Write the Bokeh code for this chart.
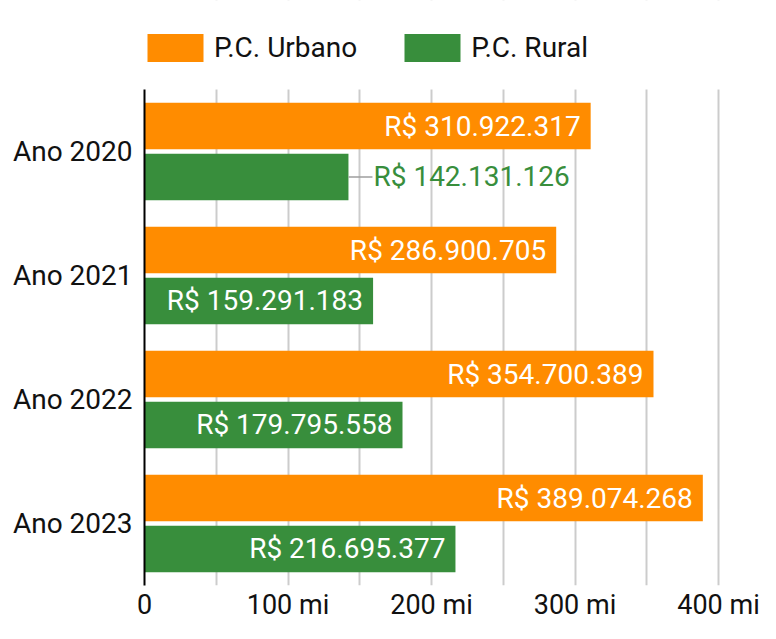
from bokeh.plotting import figure
from bokeh.models import (ColumnDataSource, Range1d, FixedTicker, Legend, LegendItem,
                          BoxAnnotation)
from bokeh.core.properties import value
from bokeh.embed import file_html
from bokeh.resources import INLINE

# ---- data ----
years = ["Ano 2020", "Ano 2021", "Ano 2022", "Ano 2023"]
urbano = [310922317, 286900705, 354700389, 389074268]
rural = [142131126, 159291183, 179795558, 216695377]
series_names = ["P.C. Urbano", "P.C. Rural"]
x_ticks = [0, 100, 200, 300, 400]
x_tick_labels = ["0", "100 mi", "200 mi", "300 mi", "400 mi"]
grid_ticks = [0, 50, 100, 150, 200, 250, 300, 350, 400]

# ---- style / layout ----
ORANGE = "#FF8C00"
GREEN = "#388E3C"
FONT = "Roboto"
W, H = 760, 623
FRAME_L = 144
BORDER_B = 38
FRAME_B = H - BORDER_B          # frame bottom in px (frame top is at 0)
PLOT_TOP = 89                   # px where the category area starts
PX_PER_MI = 1.435
X_END = (W - FRAME_L) / PX_PER_MI
UNIT = (FRAME_B - PLOT_TOP) / len(years)
Y_START = len(years) - 0.5
Y_END = -0.5 - PLOT_TOP / UNIT
OFF = 0.205
BAR_H = 0.375
LEADER_MI = 24 / PX_PER_MI


def fmt(v):
    return "R$ " + f"{v:,}".replace(",", ".")


def mi(v):
    return v / 1e6


ypos = list(range(len(years)))

p = figure(width=W, height=H, y_range=Range1d(Y_START, Y_END),
           x_range=Range1d(0, X_END), output_backend="svg", toolbar_location=None,
           min_border_left=FRAME_L, min_border_right=0, min_border_top=0,
           min_border_bottom=BORDER_B)
p.outline_line_color = None
p.background_fill_color = "white"
p.border_fill_color = "white"

# x axis
p.xaxis.ticker = FixedTicker(ticks=x_ticks)
p.xaxis.major_label_overrides = {t: l for t, l in zip(x_ticks, x_tick_labels)}
p.xaxis.axis_line_color = None
p.xaxis.major_tick_line_color = None
p.xaxis.minor_tick_line_color = None
p.xaxis.major_tick_out = 0
p.xaxis.major_tick_in = 0
p.xaxis.minor_tick_out = 0
p.xaxis.major_label_standoff = 3
p.xaxis.major_label_text_font = FONT
p.xaxis.major_label_text_font_size = "27px"
p.xaxis.major_label_text_color = "#111111"

# y axis
p.yaxis.ticker = FixedTicker(ticks=ypos)
p.yaxis.major_label_overrides = {i: n for i, n in zip(ypos, years)}
p.yaxis.bounds = (-0.5, len(years) - 0.5)
p.yaxis.axis_line_color = "black"
p.yaxis.axis_line_width = 2
p.yaxis.major_tick_line_color = None
p.yaxis.minor_tick_line_color = None
p.yaxis.major_tick_out = 0
p.yaxis.major_tick_in = 0
p.yaxis.minor_tick_out = 0
p.yaxis.major_label_standoff = 12
p.yaxis.major_label_text_font = FONT
p.yaxis.major_label_text_font_size = "28px"
p.yaxis.major_label_text_color = "#111111"

p.ygrid.grid_line_color = None
p.xgrid.ticker = FixedTicker(ticks=grid_ticks)
p.xgrid.grid_line_color = "#CCCCCC"
p.xgrid.grid_line_width = 2

# white cover above the category area (legend zone), drawn over the grid only
p.add_layout(BoxAnnotation(bottom=-0.5, top=Y_END, fill_color="white", fill_alpha=1,
                           line_color=None, level="underlay"))

src = ColumnDataSource(dict(y=ypos, urbano=[mi(v) for v in urbano],
                            rural=[mi(v) for v in rural]))
src.data["yu"] = [i - OFF for i in ypos]
src.data["yr"] = [i + OFF for i in ypos]
r1 = p.hbar(y="yu", left=0, right="urbano", height=BAR_H,
            fill_color=ORANGE, line_color=None, source=src)
r2 = p.hbar(y="yr", left=0, right="rural", height=BAR_H,
            fill_color=GREEN, line_color=None, source=src)

# value labels: inside the bar when it is long enough
LABEL_PX = 215
inside = dict(y=[], x=[], t=[])
outside = dict(y=[], x=[], x1=[], t=[])
for i, u, r in zip(ypos, urbano, rural):
    inside["y"].append(i - OFF); inside["x"].append(mi(u)); inside["t"].append(fmt(u))
    if mi(r) * PX_PER_MI >= LABEL_PX:
        inside["y"].append(i + OFF); inside["x"].append(mi(r)); inside["t"].append(fmt(r))
    else:
        outside["y"].append(i + OFF); outside["x"].append(mi(r))
        outside["x1"].append(mi(r) + LEADER_MI); outside["t"].append(fmt(r))

p.text(x="x", y="y", text="t", source=ColumnDataSource(inside),
       text_align="right", text_baseline="middle", x_offset=-10, text_color="white",
       text_font=value(FONT), text_font_size="28px")

os = ColumnDataSource(outside)
p.segment(x0="x", x1="x1", y0="y", y1="y", line_color="#9E9E9E", line_width=1.5, source=os)
p.text(x="x1", y="y", text="t", source=os,
       text_align="left", text_baseline="middle", x_offset=1, text_color=GREEN,
       text_font=value(FONT), text_font_size="28px")

legend = Legend(items=[LegendItem(label=series_names[0], renderers=[r1]),
                       LegendItem(label=series_names[1], renderers=[r2])],
                orientation="horizontal", location=(147 - 7 - FRAME_L, FRAME_B - 64.5),
                glyph_width=70, glyph_height=35, label_height=35, label_standoff=4,
                spacing=40, margin=0, padding=0, border_line_color=None,
                background_fill_alpha=0, label_text_font=FONT,
                label_text_font_size="28px", label_text_color="#111111")
p.add_layout(legend, "center")

open("out.html", "w").write(file_html(p, INLINE))
